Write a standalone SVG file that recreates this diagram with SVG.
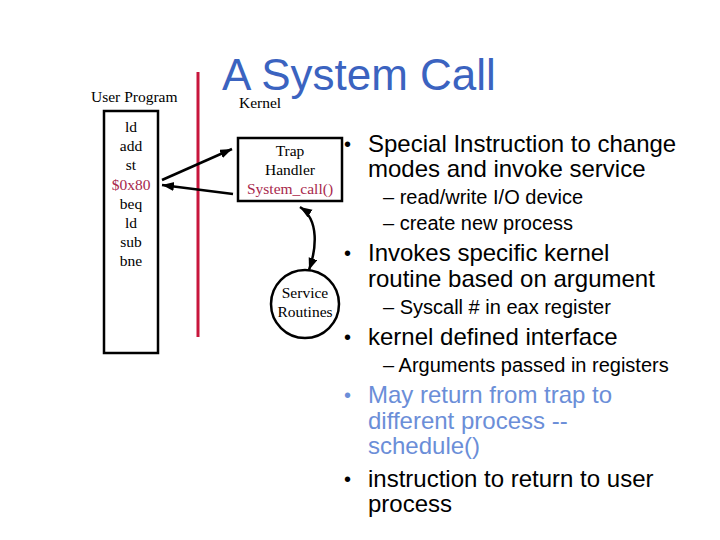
<svg xmlns="http://www.w3.org/2000/svg" width="720" height="540" viewBox="0 0 720 540">
<style>
.serif{font-family:"Liberation Serif","Times New Roman",serif;font-size:15.5px;fill:#000}
.mid{text-anchor:middle}
.red{fill:#a8284c}
.title{font-family:"Liberation Sans",Arial,sans-serif;font-size:44px;fill:#3b63c0}
.b1{font-family:"Liberation Sans",Arial,sans-serif;font-size:24px;fill:#000}
.b2{font-family:"Liberation Sans",Arial,sans-serif;font-size:20px;fill:#000}
.dot{font-family:"Liberation Sans",Arial,sans-serif;font-size:20px;fill:#000}
.blue{fill:#6b8ed8}
.box{fill:#fff;stroke:#000;stroke-width:2.5}
.conn{fill:none;stroke:#000;stroke-width:2.5}
</style>
<defs>
<marker id="ah" markerUnits="userSpaceOnUse" markerWidth="13" markerHeight="10" refX="12" refY="4.5" orient="auto-start-reverse">
<path d="M0,0 L12,4.5 L0,9 z" fill="#000"/>
</marker>
</defs>
<rect width="720" height="540" fill="#fff"/>
<text class="title" x="222" y="90">A System Call</text>
<line x1="198" y1="72" x2="198" y2="337" stroke="#c8163c" stroke-width="3"/>
<g id="user-program">
<text class="serif" x="91" y="102">User Program</text>
<rect class="box" x="104" y="111" width="54" height="242"/>
<text class="serif mid" x="131" y="132">ld</text>
<text class="serif mid" x="131" y="151">add</text>
<text class="serif mid" x="131" y="170">st</text>
<text class="serif mid red" x="131" y="190">$0x80</text>
<text class="serif mid" x="131" y="209">beq</text>
<text class="serif mid" x="131" y="228">ld</text>
<text class="serif mid" x="131" y="247">sub</text>
<text class="serif mid" x="131" y="266">bne</text>
</g>
<text class="serif" x="239" y="108">Kernel</text>
<g id="trap-handler">
<rect class="box" x="238" y="138" width="104" height="63"/>
<text class="serif mid" x="290" y="156">Trap</text>
<text class="serif mid" x="290" y="175">Handler</text>
<text class="serif mid red" x="290" y="194">System_call()</text>
</g>
<g id="service-routines">
<circle class="box" cx="305" cy="304" r="34"/>
<text class="serif mid" x="305" y="298">Service</text>
<text class="serif mid" x="305" y="317">Routines</text>
</g>
<g id="connectors">
<line class="conn" x1="162" y1="180" x2="232" y2="149" marker-end="url(#ah)"/>
<line class="conn" x1="233" y1="194" x2="162" y2="185" marker-end="url(#ah)"/>
<path class="conn" d="M300,207 C320,220 316,250 309,270" marker-start="url(#ah)" marker-end="url(#ah)"/>
</g>
<g id="bullets">
<text class="dot" x="344" y="151">•</text>
<text class="b1" x="368" y="152">Special Instruction to change</text>
<text class="b1" x="368" y="177">modes and invoke service</text>
<text class="b2" x="383" y="204">– read/write I/O device</text>
<text class="b2" x="383" y="230">– create new process</text>
<text class="dot" x="344" y="260">•</text>
<text class="b1" x="368" y="261">Invokes specific kernel</text>
<text class="b1" x="368" y="287">routine based on argument</text>
<text class="b2" x="383" y="314">– Syscall # in eax register</text>
<text class="dot" x="344" y="344">•</text>
<text class="b1" x="368" y="345">kernel defined interface</text>
<text class="b2" x="383" y="372">– Arguments passed in registers</text>
<text class="dot blue" x="344" y="402">•</text>
<text class="b1 blue" x="368" y="403">May return from trap to</text>
<text class="b1 blue" x="368" y="429">different process --</text>
<text class="b1 blue" x="368" y="454">schedule()</text>
<text class="dot" x="344" y="486">•</text>
<text class="b1" x="368" y="487">instruction to return to user</text>
<text class="b1" x="368" y="512">process</text>
</g>
</svg>
